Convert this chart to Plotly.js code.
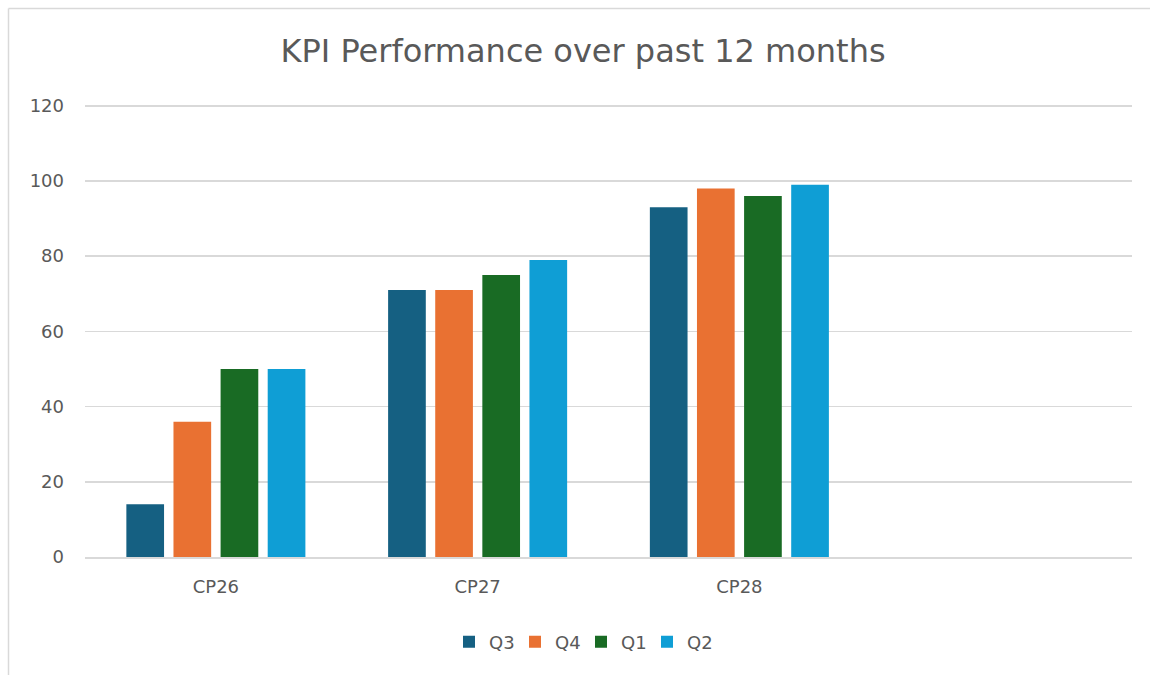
<!DOCTYPE html>
<html>
<head>
<meta charset="utf-8">
<script src="https://cdn.plot.ly/plotly-3.0.1.min.js"></script>
<style>html,body{margin:0;padding:0;background:#fff;}#chart{width:1150px;height:675px;}</style>
</head>
<body>
<div id="chart"></div>
<script>
const categories = ['CP26', 'CP27', 'CP28'];
const seriesNames = ['Q3', 'Q4', 'Q1', 'Q2'];
const q3 = [14, 71, 93];
const q4 = [36, 71, 98];
const q1 = [50, 75, 96];
const q2 = [50, 79, 99];
const seriesValues = [q3, q4, q1, q2];
const colors = ['#156082', '#E97132', '#196B24', '#0F9ED5'];
const yTicks = [0, 20, 40, 60, 80, 100, 120];

const FONT = 'DejaVu Sans, Liberation Sans, Arial, sans-serif';
const TXT = '#595959';

const traces = seriesNames.map((name, i) => ({
  type: 'bar',
  name: name,
  x: categories,
  y: seriesValues[i],
  marker: {color: colors[i], line: {width: 0}},
  hoverinfo: 'x+y+name'
}));

const L = 85, R = 18, T = 102, B = 118;
const W = 1150, H = 675;
const pw = W - L - R, ph = H - T - B;
const px = v => (v - L) / pw;
const py = v => (H - B - v) / ph;

const layout = {
  width: W, height: H,
  margin: {l: L, r: R, t: T, b: B, pad: 0},
  paper_bgcolor: '#ffffff',
  plot_bgcolor: '#ffffff',
  font: {family: FONT, color: TXT, size: 18},
  title: {
    text: 'KPI Performance over past 12 months',
    font: {family: FONT, size: 32, color: TXT},
    xref: 'container', yref: 'container',
    x: 0.507, xanchor: 'center',
    y: 1 - 51 / H, yanchor: 'middle'
  },
  barmode: 'group',
  bargap: 0.28,
  bargroupgap: 0.2,
  showlegend: true,
  legend: {
    orientation: 'h',
    x: px(581), xanchor: 'center',
    y: py(642), yanchor: 'middle',
    font: {family: FONT, size: 18, color: TXT},
    itemwidth: 30,
    entrywidth: 21,
    entrywidthmode: 'pixels',
    traceorder: 'normal'
  },
  xaxis: {
    type: 'category',
    categoryorder: 'array',
    categoryarray: categories,
    range: [-0.5, 3.5],
    showgrid: false,
    showline: true,
    linecolor: '#d9d9d9',
    linewidth: 1.5,
    ticks: '',
    ticklabelstandoff: 13,
    tickfont: {family: FONT, size: 18, color: TXT},
    zeroline: false,
    fixedrange: true
  },
  yaxis: {
    range: [0, 121],
    tickvals: yTicks,
    ticktext: yTicks.map(String),
    showgrid: true,
    gridcolor: '#d9d9d9',
    gridwidth: 1.5,
    zeroline: false,
    showline: false,
    ticks: '',
    ticklabelstandoff: 20,
    tickfont: {family: FONT, size: 18, color: TXT},
    fixedrange: true
  },
  shapes: [
    {type: 'line', xref: 'paper', yref: 'paper', x0: px(8.5), x1: px(1160), y0: py(8.5), y1: py(8.5), line: {color: '#d9d9d9', width: 1.5}},
    {type: 'line', xref: 'paper', yref: 'paper', x0: px(8.5), x1: px(8.5), y0: py(8.5), y1: py(690), line: {color: '#d9d9d9', width: 1.5}}
  ]
};

Plotly.newPlot('chart', traces, layout, {displayModeBar: false, staticPlot: true});
</script>
</body>
</html>
